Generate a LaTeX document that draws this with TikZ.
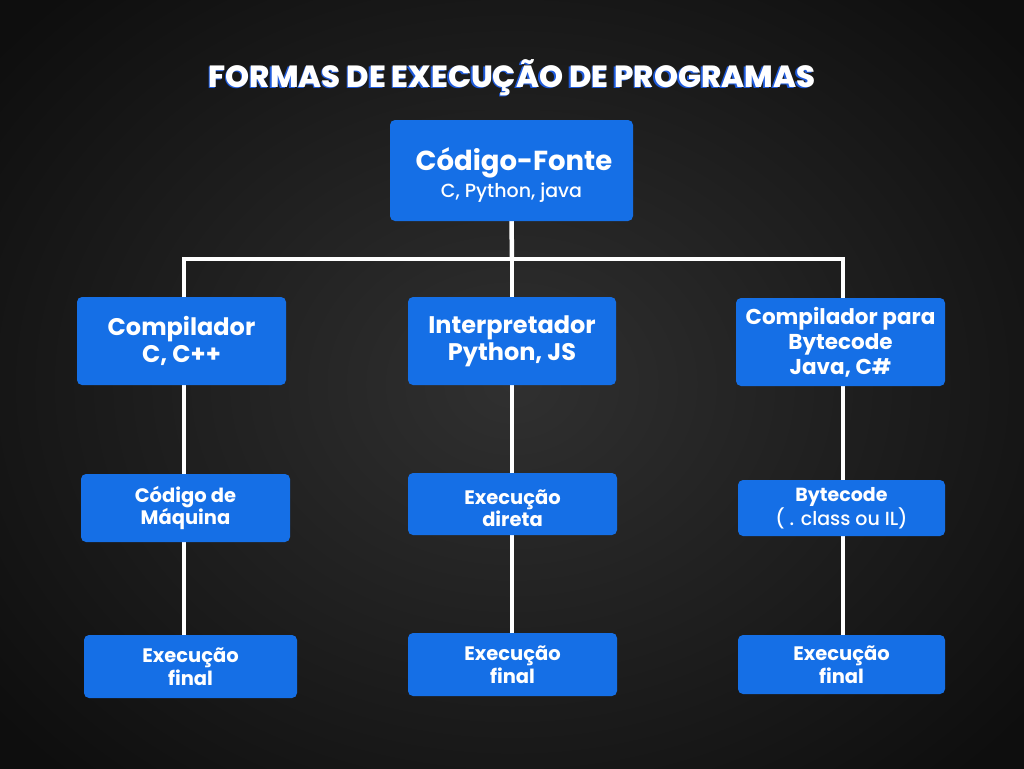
\documentclass[tikz,border=0pt]{standalone}
\usepackage{fontspec}
\setmainfont{Poppins}
\newfontfamily\heavy{Poppins ExtraBold}
\newfontfamily\medium{Poppins Medium}
\definecolor{boxblue}{RGB}{21,111,230}
\definecolor{bgin}{RGB}{48,48,48}
\definecolor{bgout}{RGB}{14,14,14}
\definecolor{shadowblue}{RGB}{30,90,220}
\pgfdeclarelayer{back}
\pgfsetlayers{back,main}
\begin{document}
\begin{tikzpicture}[x=1pt,y=-1pt,
  box/.style={fill=boxblue, rounded corners=5pt, text=white, align=center, inner sep=0pt},
  link/.style={draw=white, line width=4.5pt},
  big/.style={font=\bfseries\fontsize{24}{27}\selectfont},
  mid/.style={font=\bfseries\fontsize{19.5}{22.5}\selectfont}]
\useasboundingbox (0,0) rectangle (1024,768);
\begin{pgfonlayer}{back}
\shade[inner color=bgin, outer color=bgout] (-150,-150) rectangle (1174,918);
\end{pgfonlayer}
% title
\node[text=shadowblue, font=\heavy\fontsize{30.6}{34}\selectfont] (titleshadow) at (510.3,79.2) {FORMAS DE EXECUÇÃO DE PROGRAMAS};
\node[text=white, font=\heavy\fontsize{30.6}{34}\selectfont] (title) at (512,77.5) {FORMAS DE EXECUÇÃO DE PROGRAMAS};
% boxes
\node[box, minimum width=243pt, minimum height=101pt] (top) at (511.5,170.5) {};
\node[text=white, font=\bfseries\fontsize{27.5}{30}\selectfont] (toptitle) at (514,163) {Código-Fonte};
\node[text=white, font=\medium\fontsize{19}{22}\selectfont] (topsub) at (511.5,192.5) {C, Python, java};
\node[box, big, minimum width=209pt, minimum height=88pt] (c1) at (181.5,341) {Compilador\\C, C++};
\node[box, big, minimum width=208pt, minimum height=88pt] (c2) at (512,341) {Interpretador\\Python, JS};
\node[box, font=\bfseries\fontsize{21.5}{25}\selectfont, minimum width=209pt, minimum height=88pt] (c3) at (840.5,342) {Compilador para\\Bytecode\\Java, C\#};
\node[box, mid, minimum width=209pt, minimum height=68pt] (m1) at (185.5,508) {Código de\\Máquina};
\node[box, mid, minimum width=209pt, minimum height=62pt] (m2) at (512.5,504) {};
\node[text=white, align=center, mid, inner sep=0pt] (m2text) at (512.5,508) {Execução\\direta};
\node[box, minimum width=207pt, minimum height=56pt, font=\fontsize{19}{22}\selectfont] (m3) at (841.5,508) {\textbf{Bytecode}\\{\medium ( . class ou IL)}};
\node[box, mid, minimum width=213pt, minimum height=63pt] (f1) at (190.5,666.5) {Execução\\final};
\node[box, mid, minimum width=209pt, minimum height=63pt] (f2) at (512.5,664.5) {Execução\\final};
\node[box, mid, minimum width=207pt, minimum height=59pt] (f3) at (841.5,664.5) {Execução\\final};
% connectors
\coordinate (hl) at (512,259);
\coordinate (col1) at (184,0);
\coordinate (col3) at (843,0);
\begin{pgfonlayer}{back}
\draw[link] (top.south) -- (hl);
\draw[link] (col1 |- c1.north) |- (hl) -| (col3 |- c3.north);
\draw[link] (hl) -- (c2.north);
\draw[link] (col1 |- c1.south) -- (col1 |- m1.north);
\draw[link] (col1 |- m1.south) -- (col1 |- f1.north);
\draw[link] (c2.south) -- (c2.south |- m2.north);
\draw[link] (c2.south |- m2.south) -- (c2.south |- f2.north);
\draw[link] (col3 |- c3.south) -- (col3 |- m3.north);
\draw[link] (col3 |- m3.south) -- (col3 |- f3.north);
\end{pgfonlayer}
\end{tikzpicture}
\end{document}
